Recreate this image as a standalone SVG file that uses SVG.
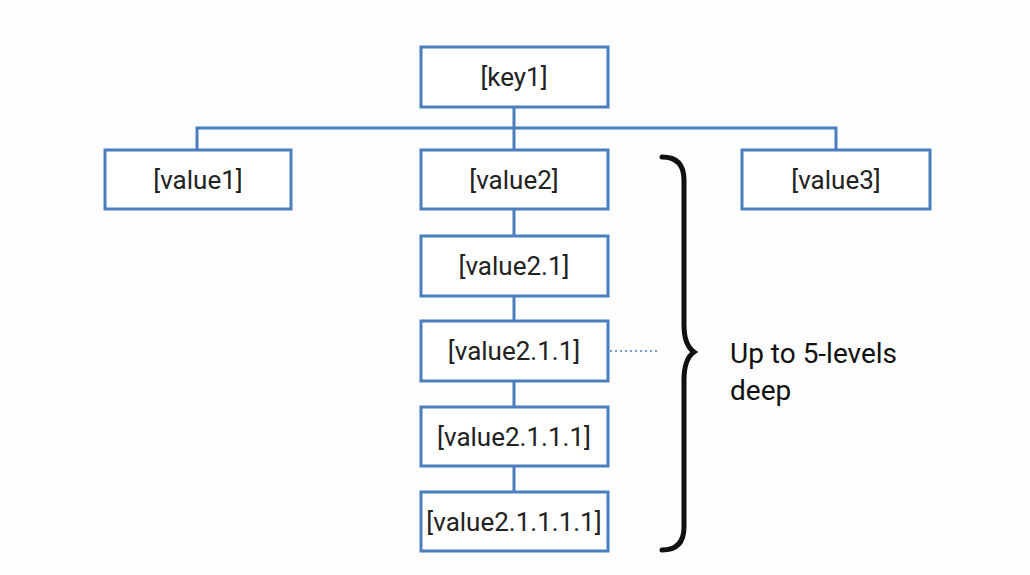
<svg xmlns="http://www.w3.org/2000/svg" width="1030" height="575" viewBox="0 0 1030 575">
<style>
.b{fill:#fff;stroke:#4a7ebf;stroke-width:3}
.t{font-family:Roboto,"Liberation Sans",sans-serif;font-size:26px;fill:#222;text-anchor:middle}
.c{fill:none;stroke:#4a7ebf;stroke-width:3}
</style>
<rect width="1030" height="575" fill="#fdfdfd"/>
<g id="connectors">
<path class="c" d="M514 107V128M197 150V128H836V150M514 128V150M514 209V236M514 296V321M514 381V407M514 466V492"/>
<path d="M610 351H658" stroke="#4a7ebf" stroke-width="1.5" stroke-dasharray="2 3" fill="none"/>
</g>
<g id="key1"><rect class="b" x="421" y="47" width="187" height="60"/><text class="t" x="514" y="86">[key1]</text></g>
<g id="value1"><rect class="b" x="105" y="150" width="186" height="59"/><text class="t" x="198" y="189">[value1]</text></g>
<g id="value2"><rect class="b" x="421" y="150" width="187" height="59"/><text class="t" x="514" y="189">[value2]</text></g>
<g id="value3"><rect class="b" x="742" y="150" width="188" height="59"/><text class="t" x="836" y="189">[value3]</text></g>
<g id="value2.1"><rect class="b" x="421" y="236" width="187" height="60"/><text class="t" x="514" y="275">[value2.1]</text></g>
<g id="value2.1.1"><rect class="b" x="421" y="321" width="187" height="60"/><text class="t" x="514" y="360">[value2.1.1]</text></g>
<g id="value2.1.1.1"><rect class="b" x="421" y="407" width="187" height="59"/><text class="t" x="514" y="446">[value2.1.1.1]</text></g>
<g id="value2.1.1.1.1"><rect class="b" x="421" y="492" width="187" height="59"/><text class="t" x="514" y="531">[value2.1.1.1.1]</text></g>
<g id="brace">
<path d="M662 157Q684 157 684 180V325Q684 345 694 352Q684 359 684 380V527Q684 550 662 550" fill="none" stroke="#111" stroke-width="5" stroke-linecap="round"/>
<text x="730" y="363" style="font-family:Roboto,'Liberation Sans',sans-serif;font-size:28px;fill:#111">Up to 5-levels</text>
<text x="730" y="400" style="font-family:Roboto,'Liberation Sans',sans-serif;font-size:28px;fill:#111">deep</text>
</g>
</svg>
